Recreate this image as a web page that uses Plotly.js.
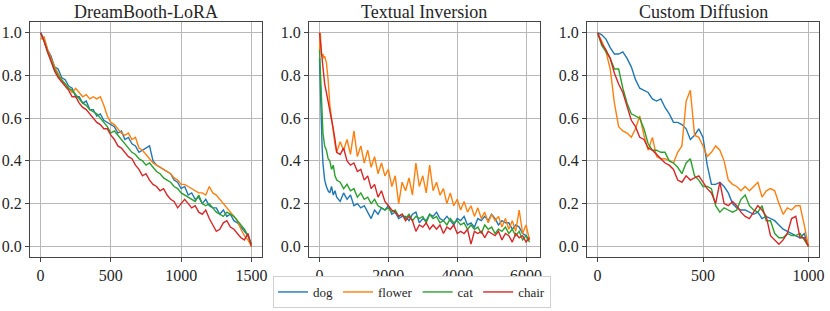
<!DOCTYPE html>
<html>
<head>
<meta charset="utf-8">
<script src="https://cdn.plot.ly/plotly-3.0.1.min.js"></script>
<style>html,body{margin:0;padding:0;background:#fff;}#chart{width:830px;height:311px;}</style>
</head>
<body>
<div id="chart"></div>
<script>
// ---------- data ----------
const seriesNames = ["dog", "flower", "cat", "chair"];
const panelTitles = ["DreamBooth-LoRA", "Textual Inversion", "Custom Diffusion"];

// DreamBooth-LoRA
const loraX = [0,25,50,75,100,125,150,175,200,225,250,275,300,325,350,375,400,425,450,475,500,525,550,575,600,625,650,675,700,725,750,775,800,825,850,875,900,925,950,975,1000,1025,1050,1075,1100,1125,1150,1175,1200,1225,1250,1275,1300,1325,1350,1375,1400,1425,1450,1475,1500];
const loraDog = [1.00,0.97,0.92,0.89,0.84,0.83,0.79,0.78,0.75,0.74,0.70,0.70,0.67,0.68,0.64,0.64,0.61,0.62,0.59,0.58,0.57,0.56,0.53,0.54,0.50,0.51,0.48,0.47,0.44,0.45,0.46,0.47,0.40,0.38,0.37,0.36,0.35,0.34,0.31,0.30,0.27,0.28,0.24,0.25,0.22,0.23,0.20,0.22,0.19,0.18,0.18,0.15,0.17,0.14,0.15,0.12,0.11,0.09,0.07,0.05,0.01];
const loraFlower = [0.97,0.98,0.92,0.88,0.84,0.81,0.78,0.76,0.74,0.72,0.74,0.72,0.70,0.71,0.69,0.70,0.69,0.70,0.66,0.61,0.58,0.57,0.55,0.53,0.52,0.53,0.50,0.51,0.46,0.45,0.43,0.41,0.39,0.38,0.37,0.36,0.35,0.34,0.32,0.31,0.29,0.29,0.28,0.27,0.26,0.25,0.25,0.24,0.28,0.25,0.24,0.22,0.20,0.18,0.16,0.14,0.12,0.08,0.05,0.03,0.00];
const loraCat = [1.00,0.96,0.91,0.87,0.83,0.80,0.78,0.76,0.74,0.73,0.71,0.69,0.67,0.66,0.64,0.63,0.62,0.60,0.58,0.56,0.53,0.54,0.52,0.50,0.48,0.46,0.44,0.43,0.41,0.40,0.38,0.39,0.37,0.35,0.34,0.32,0.31,0.30,0.28,0.27,0.25,0.24,0.23,0.22,0.21,0.24,0.20,0.19,0.20,0.18,0.16,0.15,0.14,0.16,0.15,0.14,0.12,0.10,0.08,0.05,0.01];
const loraChair = [1.00,0.96,0.91,0.86,0.82,0.79,0.77,0.75,0.73,0.70,0.70,0.67,0.65,0.64,0.62,0.60,0.58,0.57,0.55,0.55,0.52,0.50,0.47,0.46,0.44,0.42,0.41,0.38,0.36,0.33,0.34,0.31,0.29,0.28,0.26,0.27,0.24,0.22,0.21,0.18,0.20,0.22,0.20,0.18,0.19,0.16,0.15,0.17,0.13,0.10,0.07,0.08,0.11,0.12,0.09,0.08,0.06,0.04,0.03,0.06,0.00];

// Textual Inversion
const tiX = [0,25,50,75,100,125,150,200,250,300,350,400,450,500,600,700,800,900,1000,1100,1200,1300,1400,1500,1600,1700,1800,1900,2000,2100,2200,2300,2400,2500,2600,2700,2800,2900,3000,3100,3200,3300,3400,3500,3600,3700,3800,3900,4000,4100,4200,4300,4400,4500,4600,4700,4800,4900,5000,5100,5200,5300,5400,5500,5600,5700,5800,5900,6000,6100];
const tiDog = [0.88,0.70,0.58,0.47,0.39,0.34,0.31,0.28,0.26,0.25,0.28,0.24,0.26,0.23,0.21,0.25,0.22,0.24,0.19,0.20,0.18,0.19,0.16,0.13,0.17,0.15,0.18,0.17,0.19,0.15,0.16,0.13,0.14,0.14,0.12,0.15,0.16,0.11,0.13,0.12,0.15,0.14,0.16,0.13,0.12,0.14,0.12,0.10,0.13,0.12,0.14,0.10,0.11,0.09,0.13,0.12,0.14,0.12,0.15,0.13,0.10,0.12,0.11,0.11,0.08,0.10,0.09,0.06,0.05,0.03];
const tiFlower = [0.92,1.00,0.90,0.89,0.90,0.88,0.89,0.86,0.78,0.66,0.60,0.53,0.48,0.44,0.49,0.45,0.50,0.43,0.54,0.42,0.47,0.39,0.45,0.37,0.42,0.34,0.39,0.33,0.36,0.28,0.33,0.20,0.30,0.26,0.32,0.24,0.39,0.28,0.33,0.25,0.38,0.26,0.30,0.24,0.27,0.20,0.25,0.19,0.22,0.17,0.21,0.16,0.19,0.14,0.18,0.13,0.16,0.11,0.15,0.12,0.14,0.09,0.13,0.08,0.12,0.07,0.17,0.06,0.10,0.03];
const tiCat = [0.92,0.80,0.68,0.58,0.53,0.50,0.47,0.45,0.41,0.40,0.36,0.38,0.33,0.31,0.30,0.27,0.29,0.26,0.27,0.23,0.25,0.22,0.23,0.20,0.22,0.19,0.18,0.17,0.18,0.16,0.17,0.14,0.15,0.13,0.15,0.12,0.14,0.13,0.14,0.11,0.15,0.13,0.14,0.11,0.12,0.10,0.13,0.11,0.12,0.10,0.11,0.08,0.10,0.08,0.09,0.06,0.10,0.08,0.09,0.06,0.08,0.07,0.09,0.06,0.08,0.05,0.07,0.03,0.05,0.02];
const tiChair = [1.00,0.96,0.90,0.86,0.84,0.79,0.76,0.72,0.68,0.63,0.59,0.55,0.50,0.44,0.43,0.46,0.40,0.38,0.39,0.35,0.36,0.31,0.33,0.27,0.29,0.23,0.26,0.21,0.19,0.17,0.16,0.14,0.15,0.12,0.14,0.12,0.07,0.10,0.09,0.11,0.08,0.10,0.08,0.10,0.06,0.09,0.08,0.10,0.06,0.07,0.06,0.08,0.01,0.07,0.06,0.07,0.04,0.07,0.06,0.05,0.07,0.03,0.06,0.05,0.02,0.06,0.04,0.05,0.02,0.04];

// Custom Diffusion
const cdX = [0,20,40,60,80,100,120,140,160,180,200,220,240,260,280,300,320,340,360,380,400,420,440,460,480,500,520,540,560,580,600,620,640,660,680,700,720,740,760,780,800,820,840,860,880,900,920,940,960,980,1000];
const cdDog = [1.00,0.99,0.97,0.93,0.90,0.90,0.91,0.88,0.84,0.78,0.74,0.73,0.72,0.69,0.68,0.69,0.65,0.62,0.58,0.58,0.57,0.55,0.50,0.52,0.55,0.51,0.38,0.29,0.29,0.30,0.28,0.25,0.20,0.18,0.17,0.17,0.16,0.15,0.16,0.13,0.14,0.13,0.12,0.10,0.08,0.07,0.06,0.05,0.04,0.06,0.00];
const cdFlower = [1.00,0.96,0.91,0.83,0.67,0.56,0.54,0.53,0.51,0.55,0.61,0.52,0.45,0.51,0.42,0.41,0.41,0.40,0.39,0.44,0.47,0.68,0.73,0.52,0.51,0.47,0.42,0.44,0.47,0.45,0.40,0.31,0.29,0.28,0.26,0.28,0.26,0.28,0.30,0.23,0.26,0.27,0.26,0.20,0.15,0.18,0.17,0.19,0.19,0.10,0.00];
const cdCat = [1.00,0.94,0.91,0.88,0.83,0.83,0.74,0.67,0.62,0.61,0.60,0.55,0.48,0.45,0.45,0.44,0.44,0.40,0.39,0.37,0.34,0.39,0.41,0.33,0.31,0.28,0.28,0.27,0.19,0.16,0.18,0.17,0.16,0.17,0.22,0.24,0.19,0.17,0.16,0.19,0.12,0.12,0.06,0.04,0.04,0.06,0.05,0.05,0.06,0.03,0.00];
const cdChair = [1.00,0.95,0.92,0.88,0.81,0.76,0.72,0.66,0.59,0.56,0.51,0.50,0.46,0.45,0.43,0.41,0.39,0.38,0.36,0.31,0.30,0.33,0.31,0.32,0.33,0.30,0.27,0.25,0.20,0.30,0.20,0.19,0.21,0.19,0.16,0.14,0.13,0.16,0.19,0.17,0.14,0.05,0.03,0.01,0.03,0.06,0.13,0.14,0.04,0.04,0.00];

const yTickVals = [0, 0.2, 0.4, 0.6, 0.8, 1.0];
const yTickText = ["0.0", "0.2", "0.4", "0.6", "0.8", "1.0"];
const loraTicks = [0, 500, 1000, 1500];
const tiTicks = [0, 2000, 4000, 6000];
const cdTicks = [0, 500, 1000];

// ---------- styling ----------
const colors = ["#1f77b4", "#ff7f0e", "#2ca02c", "#d62728"];
const FONT = "Liberation Serif";
const TXT = "#262626";

const panels = [
  {x: loraX, ys: [loraDog, loraFlower, loraCat, loraChair], ticks: loraTicks, range: [-75, 1575], dom: [30/830, 262/830]},
  {x: tiX, ys: [tiDog, tiFlower, tiCat, tiChair], ticks: tiTicks, range: [-305, 6405], dom: [309/830, 540/830]},
  {x: cdX, ys: [cdDog, cdFlower, cdCat, cdChair], ticks: cdTicks, range: [-50, 1050], dom: [587/830, 819/830]}
];

const traces = [];
const layout = {
  width: 830, height: 311,
  margin: {l: 0, r: 0, t: 0, b: 0},
  paper_bgcolor: "#fff", plot_bgcolor: "#fff",
  font: {family: FONT, color: TXT, size: 15},
  showlegend: true,
  legend: {
    orientation: "h", x: 412/830, xanchor: "center", y: 3/311, yanchor: "bottom",
    bordercolor: "#d0d0d0", borderwidth: 1, bgcolor: "#fff",
    font: {family: FONT, size: 13, color: TXT},
    itemwidth: 30, tracegroupgap: 0
  },
  annotations: []
};
const yDom = [(311-257)/311, (311-22)/311];

panels.forEach((p, i) => {
  const xa = i === 0 ? "x" : "x" + (i + 1);
  const ya = i === 0 ? "y" : "y" + (i + 1);
  p.ys.forEach((ys, k) => {
    traces.push({
      type: "scatter", mode: "lines", x: p.x, y: ys, name: seriesNames[k],
      xaxis: xa, yaxis: ya, showlegend: i === 0, legendgroup: seriesNames[k],
      line: {color: colors[k], width: 1.4}
    });
  });
  const axCommon = {
    showline: true, mirror: true, linecolor: "#444", linewidth: 1,
    showgrid: true, gridcolor: "#b8b8b8", gridwidth: 1, zeroline: false,
    ticks: "outside", ticklen: 4, tickcolor: "#444", tickwidth: 1,
    tickfont: {family: FONT, size: 16, color: TXT}, automargin: false
  };
  layout[i === 0 ? "xaxis" : "xaxis" + (i + 1)] = Object.assign({}, axCommon, {
    domain: p.dom, range: p.range, anchor: ya, tickvals: p.ticks,
    ticktext: p.ticks.map(String)
  });
  layout[i === 0 ? "yaxis" : "yaxis" + (i + 1)] = Object.assign({}, axCommon, {
    domain: yDom, range: [-0.05, 1.05], anchor: xa, tickvals: yTickVals, ticktext: yTickText
  });
  layout.annotations.push({
    text: panelTitles[i], xref: "paper", yref: "paper",
    x: (p.dom[0] + p.dom[1]) / 2, y: (311-12)/311, xanchor: "center", yanchor: "middle",
    showarrow: false, font: {family: FONT, size: 18, color: TXT}
  });
});

Plotly.newPlot("chart", traces, layout, {displayModeBar: false, staticPlot: true});
</script>
</body>
</html>
